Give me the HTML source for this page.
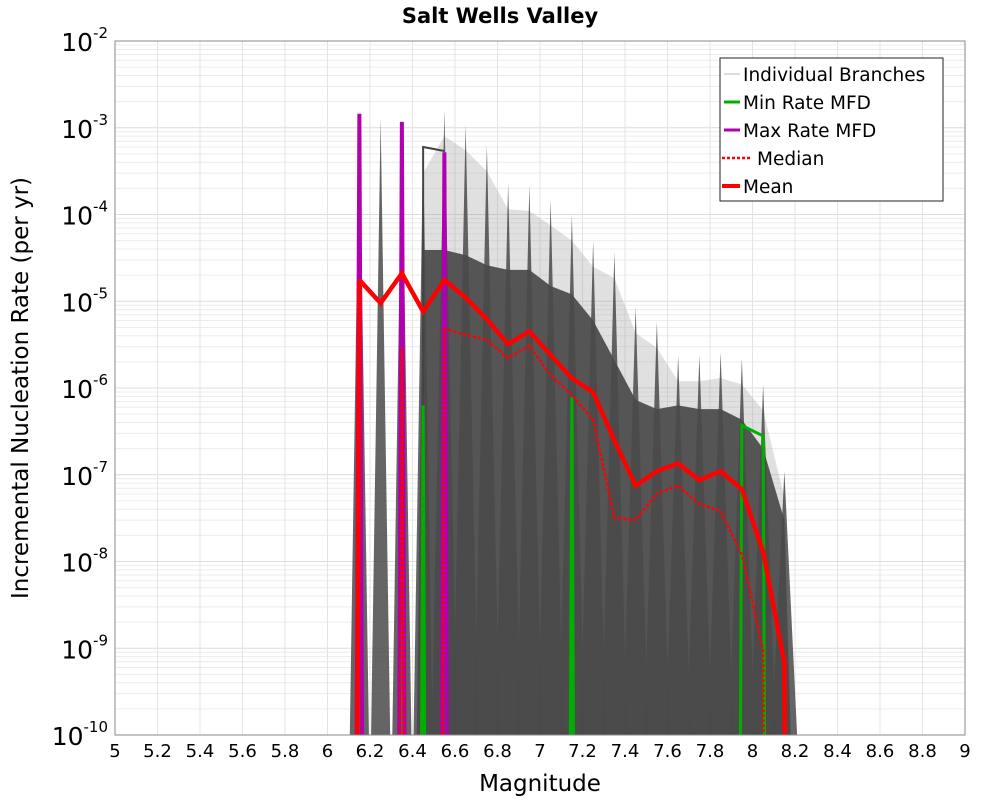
<!DOCTYPE html>
<html><head><meta charset="utf-8"><style>
body{margin:0;background:#fff;font-family:"DejaVu Sans","Liberation Sans",sans-serif}
</style></head><body>
<svg id="chart" width="1000" height="800" xmlns="http://www.w3.org/2000/svg" font-family="DejaVu Sans, Liberation Sans, sans-serif">
<defs><clipPath id="pc"><rect x="115" y="41" width="850" height="694"/></clipPath></defs>
<rect x="115" y="41" width="850" height="694" fill="#fff"/>
<g id="grid"></g>
<g id="marks" clip-path="url(#pc)"></g>
<rect x="115" y="41" width="850" height="694" fill="none" stroke="#888" stroke-width="1"/>
<g id="ticks"></g>
<text x="500" y="23" text-anchor="middle" font-size="21" font-weight="bold">Salt Wells Valley</text>
<text x="540" y="791" text-anchor="middle" font-size="23">Magnitude</text>
<text transform="translate(28,388) rotate(-90)" text-anchor="middle" font-size="23">Incremental Nucleation Rate (per yr)</text>
<g>
<rect x="720" y="58" width="223" height="143" fill="#fff" stroke="#222" stroke-width="1"/>
<g><line x1="724" y1="74" x2="740" y2="74" stroke="#bbb" stroke-width="1"/><text x="743" y="81" font-size="18.5">Individual Branches</text></g>
<g><line x1="724" y1="102" x2="740" y2="102" stroke="#00b000" stroke-width="3"/><text x="743" y="109" font-size="18.5">Min Rate MFD</text></g>
<g><line x1="724" y1="130" x2="740" y2="130" stroke="#b000b0" stroke-width="3"/><text x="743" y="137" font-size="18.5">Max Rate MFD</text></g>
<g><line x1="722" y1="158" x2="752" y2="158" stroke="#f00" stroke-width="2.5" stroke-dasharray="3,2"/><text x="757" y="165" font-size="18.5">Median</text></g>
<g><line x1="722" y1="186" x2="740" y2="186" stroke="#f00" stroke-width="4"/><text x="743" y="193" font-size="18.5">Mean</text></g>
</g>
</svg>
<script>
const mags=[6.05,6.15,6.25,6.35,6.45,6.55,6.65,6.75,6.85,6.95,7.05,7.15,7.25,7.35,7.45,7.55,7.65,7.75,7.85,7.95,8.05,8.15,8.25];
const branchMax=[0,1.4e-3,1.3e-3,1.2e-3,6e-4,1.6e-3,1.1e-3,6.3e-4,2.3e-4,2.2e-4,1.5e-4,1e-4,5e-5,3.7e-5,8.6e-6,5.8e-6,2.4e-6,2.4e-6,2.6e-6,2.2e-6,1.1e-6,1.1e-7,0];
const branchDense=[0,0,0,0,3.9e-5,3.9e-5,3.4e-5,2.6e-5,2.3e-5,2.3e-5,1.5e-5,1.2e-5,6e-6,2.1e-6,7.3e-7,5.7e-7,6.3e-7,5.7e-7,5.7e-7,4.3e-7,2e-7,3e-8,0];
const meanVals=[0,1.76e-5,9.5e-6,2.1e-5,7.6e-6,1.76e-5,1.1e-5,6.2e-6,3.2e-6,4.5e-6,2.4e-6,1.3e-6,8.9e-7,2.5e-7,7.5e-8,1.1e-7,1.35e-7,8.7e-8,1.1e-7,6.8e-8,1.3e-8,6.8e-10,0];
const medianVals=[0,0,0,2.9e-6,0,4.8e-6,4.1e-6,3.6e-6,2.2e-6,3.1e-6,1.4e-6,8.3e-7,4.3e-7,3.2e-8,3e-8,6.1e-8,7.5e-8,4.6e-8,3.8e-8,1.2e-8,9.5e-10,0,0];
const minVals=[0,0,0,0,6.3e-7,0,0,0,0,0,0,7.8e-7,0,0,0,0,0,0,0,3.7e-7,2.8e-7,0,0];
const maxVals=[0,1.45e-3,0,1.17e-3,0,5.2e-4,0,0,0,0,0,0,0,0,0,0,0,0,0,0,0,0,0];
const xTicks=["5","5.2","5.4","5.6","5.8","6","6.2","6.4","6.6","6.8","7","7.2","7.4","7.6","7.8","8","8.2","8.4","8.6","8.8","9"];
const yExps=[-2,-3,-4,-5,-6,-7,-8,-9,-10];

const NS="http://www.w3.org/2000/svg";
const X=m=>115+(m-5)*212.5;
const Y=v=>{const lg=v<=0?-60:Math.log10(v);return 41+(-2-lg)*86.75;};
function mk(tag,attrs,parent){const e=document.createElementNS(NS,tag);for(const k in attrs)e.setAttribute(k,attrs[k]);parent.appendChild(e);return e;}
const grid=document.getElementById('grid'),marks=document.getElementById('marks'),ticks=document.getElementById('ticks');
for(const ex of yExps){
  if(ex>-10){for(let k=2;k<10;k++){const y=Y(k*Math.pow(10,ex-1));const l=mk('line',{x1:115,x2:965,y1:y,y2:y,stroke:'#ececec','stroke-width':1},grid);

}}
  const y=Y(Math.pow(10,ex));const l=mk('line',{x1:115,x2:965,y1:y,y2:y,stroke:'#dcdcdc','stroke-width':1},grid);


  const t=mk('text',{x:108,y:y+10,'text-anchor':'end','font-size':25},ticks);


  t.innerHTML='10<tspan dy="-13" font-size="15">'+ex+'</tspan>';
}
xTicks.forEach(s=>{const x=X(parseFloat(s));
  const l=mk('line',{x1:x,x2:x,y1:41,y2:735,stroke:'#e4e4e4','stroke-width':1},grid);


  const t=mk('text',{x:x,y:757,'text-anchor':'middle','font-size':18},ticks);


  t.textContent=s;});
let lp=[X(6.45)+','+735];mags.forEach((m,i)=>{if(m>=6.45&&m<=8.15)lp.push(X(m)+','+Y(branchMax[i]*0.5));});lp.push(X(8.18)+','+735);
const light=mk('polygon',{points:lp.join(' '),fill:'#999',opacity:0.3},marks);


let dp=[X(6.42)+','+735];mags.forEach((m,i)=>{if(branchDense[i]>0)dp.push(X(m)+','+Y(branchDense[i]));});dp.push(X(8.18)+','+735);
const dense=mk('polygon',{points:dp.join(' '),fill:'#555'},marks);


mags.forEach((m,i)=>{if(branchMax[i]<=0)return;
  const w=m<6.5?0.045:0.06;
  const p=mk('polygon',{points:X(m-w)+',735 '+X(m)+','+Y(branchMax[i])+' '+X(m+w)+',735',fill:'#4a4a4a',opacity:0.85},marks);

});
const sq=mk('polyline',{points:X(6.45)+',735 '+X(6.45)+','+Y(branchMax[4])+' '+X(6.55)+','+Y(branchMax[4]*0.9),fill:'none',stroke:'#444','stroke-width':2},marks);


function line(vals,attrs,name){const p=mk('polyline',Object.assign({points:mags.map((m,i)=>X(m)+','+Y(vals[i])).join(' '),fill:'none','stroke-linejoin':'miter','stroke-miterlimit':2},attrs),marks);

}
line(minVals,{stroke:'#00b000','stroke-width':3},'min-rate-line');
line(maxVals,{stroke:'#b000b0','stroke-width':4},'max-rate-line');
line(medianVals,{stroke:'#f00','stroke-width':2.5,'stroke-dasharray':'3,2'},'median-line');
line(meanVals,{stroke:'#f00','stroke-width':4.5},'mean-line');
</script>
</body></html>
